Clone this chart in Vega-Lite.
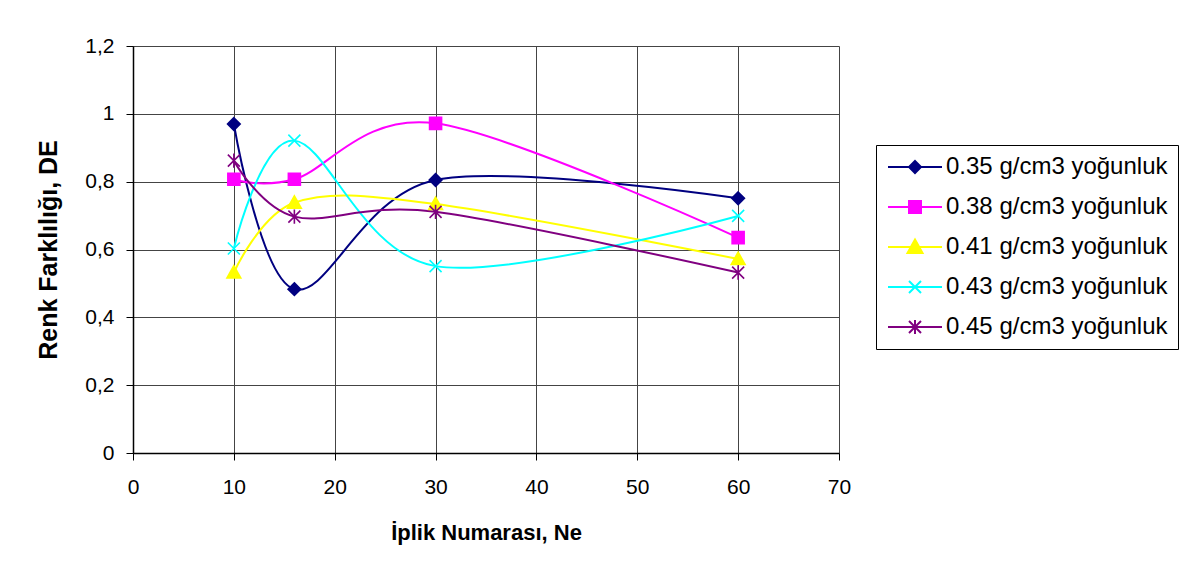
{
  "$schema": "https://vega.github.io/schema/vega-lite/v6.json",
  "width": 706,
  "height": 407,
  "autosize": {"type": "none"},
  "padding": {"left": 133, "top": 46, "right": 365, "bottom": 123},
  "background": "white",
  "config": {
    "font": "Liberation Sans",
    "view": {"stroke": null},
    "axis": {
      "labelFont": "Liberation Sans",
      "labelFontSize": 21,
      "labelColor": "black",
      "titleFont": "Liberation Sans",
      "titleFontSize": 21,
      "titleFontWeight": "bold",
      "titleColor": "black",
      "domainColor": "black",
      "domainWidth": 1.5,
      "tickColor": "black",
      "tickSize": 7,
      "gridColor": "#444444",
      "gridWidth": 1,
      "gridOpacity": 1
    },
    "legend": {
      "labelFont": "Liberation Sans",
      "labelFontSize": 24,
      "labelColor": "black",
      "labelLimit": 400
    }
  },
  "data": {
    "values": [
      {"seri": "0.35 g/cm3 yoğunluk", "ne": 10, "de": 0.97},
      {"seri": "0.35 g/cm3 yoğunluk", "ne": 16, "de": 0.483},
      {"seri": "0.35 g/cm3 yoğunluk", "ne": 30, "de": 0.805},
      {"seri": "0.35 g/cm3 yoğunluk", "ne": 60, "de": 0.751},
      {"seri": "0.38 g/cm3 yoğunluk", "ne": 10, "de": 0.807},
      {"seri": "0.38 g/cm3 yoğunluk", "ne": 16, "de": 0.807},
      {"seri": "0.38 g/cm3 yoğunluk", "ne": 30, "de": 0.972},
      {"seri": "0.38 g/cm3 yoğunluk", "ne": 60, "de": 0.635},
      {"seri": "0.41 g/cm3 yoğunluk", "ne": 10, "de": 0.532},
      {"seri": "0.41 g/cm3 yoğunluk", "ne": 16, "de": 0.738},
      {"seri": "0.41 g/cm3 yoğunluk", "ne": 30, "de": 0.734},
      {"seri": "0.41 g/cm3 yoğunluk", "ne": 60, "de": 0.572},
      {"seri": "0.43 g/cm3 yoğunluk", "ne": 10, "de": 0.603},
      {"seri": "0.43 g/cm3 yoğunluk", "ne": 16, "de": 0.921},
      {"seri": "0.43 g/cm3 yoğunluk", "ne": 30, "de": 0.551},
      {"seri": "0.43 g/cm3 yoğunluk", "ne": 60, "de": 0.699},
      {"seri": "0.45 g/cm3 yoğunluk", "ne": 10, "de": 0.862},
      {"seri": "0.45 g/cm3 yoğunluk", "ne": 16, "de": 0.697},
      {"seri": "0.45 g/cm3 yoğunluk", "ne": 30, "de": 0.711},
      {"seri": "0.45 g/cm3 yoğunluk", "ne": 60, "de": 0.532}
    ]
  },
  "encoding": {
    "x": {
      "field": "ne",
      "type": "quantitative",
      "scale": {"domain": [0, 70], "nice": false, "zero": false},
      "axis": {
        "values": [0, 10, 20, 30, 40, 50, 60, 70],
        "title": "İplik Numarası, Ne",
        "titleFontSize": 22,
        "labelPadding": 16,
        "titlePadding": 25,
        "labelFlush": false
      }
    },
    "y": {
      "field": "de",
      "type": "quantitative",
      "scale": {"domain": [0, 1.2], "nice": false},
      "axis": {
        "values": [0, 0.2, 0.4, 0.6, 0.8, 1, 1.2],
        "labelExpr": "replace(toString(datum.value), '.', ',')",
        "title": "Renk Farklılığı, DE",
        "titleFontSize": 25,
        "labelPadding": 12,
        "titlePadding": 23,
        "labelFlush": false
      }
    }
  },
  "layer": [
    {
      "mark": {"type": "line", "interpolate": "cardinal", "strokeWidth": 2},
      "encoding": {
        "stroke": {
          "field": "seri",
          "type": "nominal",
          "legend": null,
          "scale": {
            "domain": ["0.35 g/cm3 yoğunluk", "0.38 g/cm3 yoğunluk", "0.41 g/cm3 yoğunluk", "0.43 g/cm3 yoğunluk", "0.45 g/cm3 yoğunluk"],
            "range": ["#000080", "#FF00FF", "#FFFF00", "#00FFFF", "#800080"]
          }
        },
        "detail": {"field": "seri"}
      }
    },
    {
      "mark": {"type": "point", "opacity": 1, "size": 144, "strokeWidth": 1.6},
      "encoding": {
        "fill": {
          "field": "seri",
          "type": "nominal",
          "legend": null,
          "scale": {
            "domain": ["0.35 g/cm3 yoğunluk", "0.38 g/cm3 yoğunluk", "0.41 g/cm3 yoğunluk", "0.43 g/cm3 yoğunluk", "0.45 g/cm3 yoğunluk"],
            "range": ["#000080", "#FF00FF", "#FFFF00", "#00FFFF", "#800080"]
          }
        },
        "stroke": {
          "field": "seri",
          "type": "nominal",
          "legend": null,
          "scale": {
            "domain": ["0.35 g/cm3 yoğunluk", "0.38 g/cm3 yoğunluk", "0.41 g/cm3 yoğunluk", "0.43 g/cm3 yoğunluk", "0.45 g/cm3 yoğunluk"],
            "range": ["#000080", "#FF00FF", "#FFFF00", "#00FFFF", "#800080"]
          }
        },
        "shape": {
          "field": "seri",
          "type": "nominal",
          "legend": null,
          "scale": {
            "domain": ["0.35 g/cm3 yoğunluk", "0.38 g/cm3 yoğunluk", "0.41 g/cm3 yoğunluk", "0.43 g/cm3 yoğunluk", "0.45 g/cm3 yoğunluk"],
            "range": [
              "M0,-1.05L1.05,0L0,1.05L-1.05,0Z",
              "M-1,-1L1,-1L1,1L-1,1Z",
              "M0,-1.15L1.15,0.9L-1.15,0.9Z",
              "M-1,-1L1,1M1,-1L-1,1",
              "M-1,-1L1,1M1,-1L-1,1M0,-1.2L0,1.2"
            ]
          }
        }
      }
    },
    {
      "transform": [{"filter": "false"}],
      "mark": {"type": "point", "opacity": 1, "size": 400, "strokeWidth": 2},
      "encoding": {
        "fill": {
          "field": "seri",
          "type": "nominal",
          "scale": {
            "domain": ["0.35 g/cm3 yoğunluk", "0.38 g/cm3 yoğunluk", "0.41 g/cm3 yoğunluk", "0.43 g/cm3 yoğunluk", "0.45 g/cm3 yoğunluk"],
            "range": ["#000080", "#FF00FF", "#FFFF00", "#00FFFF", "#800080"]
          },
          "legend": {
            "title": null,
            "orient": "none",
            "legendX": 743,
            "legendY": 99,
            "strokeColor": "black",
            "fillColor": "white",
            "padding": 10,
            "rowPadding": 16,
            "labelOffset": 36,
            "symbolSize": 400,
            "symbolStrokeWidth": 2,
            "symbolOpacity": 1
          }
        },
        "stroke": {
          "field": "seri",
          "type": "nominal",
          "scale": {
            "domain": ["0.35 g/cm3 yoğunluk", "0.38 g/cm3 yoğunluk", "0.41 g/cm3 yoğunluk", "0.43 g/cm3 yoğunluk", "0.45 g/cm3 yoğunluk"],
            "range": ["#000080", "#FF00FF", "#FFFF00", "#00FFFF", "#800080"]
          },
          "legend": {
            "title": null,
            "orient": "none",
            "legendX": 743,
            "legendY": 99,
            "strokeColor": "black",
            "fillColor": "white",
            "padding": 10,
            "rowPadding": 16,
            "labelOffset": 36,
            "symbolSize": 400,
            "symbolStrokeWidth": 2,
            "symbolOpacity": 1
          }
        },
        "shape": {
          "field": "seri",
          "type": "nominal",
          "scale": {
            "domain": ["0.35 g/cm3 yoğunluk", "0.38 g/cm3 yoğunluk", "0.41 g/cm3 yoğunluk", "0.43 g/cm3 yoğunluk", "0.45 g/cm3 yoğunluk"],
            "range": [
              "M-1,0L4.4,0M1.7,-0.6L2.3,0L1.7,0.6L1.1,0Z",
              "M-1,0L4.4,0M1.1,-0.6L2.3,-0.6L2.3,0.6L1.1,0.6Z",
              "M-1,0L4.4,0M1.7,-0.75L2.45,0.6L0.95,0.6Z",
              "M-1,0L4.4,0M1.1,-0.6L2.3,0.6M2.3,-0.6L1.1,0.6",
              "M-1,0L4.4,0M1.1,-0.6L2.3,0.6M2.3,-0.6L1.1,0.6M1.7,-0.7L1.7,0.7"
            ]
          },
          "legend": {
            "title": null,
            "orient": "none",
            "legendX": 743,
            "legendY": 99,
            "strokeColor": "black",
            "fillColor": "white",
            "padding": 10,
            "rowPadding": 16,
            "labelOffset": 36,
            "symbolSize": 400,
            "symbolStrokeWidth": 2,
            "symbolOpacity": 1
          }
        }
      }
    }
  ],
  "resolve": {
    "scale": {"fill": "independent", "stroke": "independent", "shape": "independent"},
    "legend": {"fill": "independent", "stroke": "independent", "shape": "independent"}
  }
}
